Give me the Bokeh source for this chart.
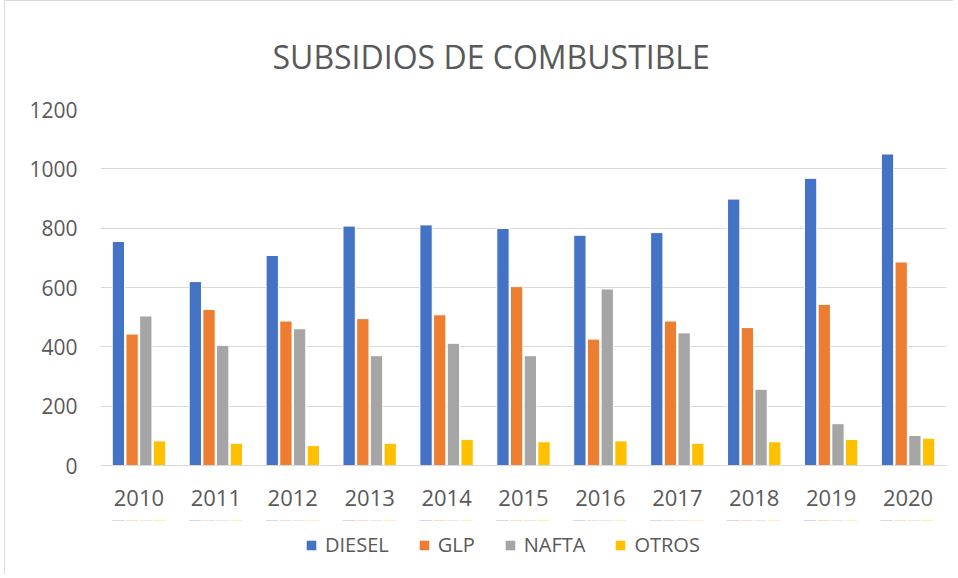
from bokeh.plotting import figure
from bokeh.layouts import column
from bokeh.models import ColumnDataSource, FactorRange, Legend, LegendItem, Range1d, FixedTicker
from bokeh.transform import dodge
from bokeh.embed import file_html
from bokeh.resources import INLINE

years = ["2010", "2011", "2012", "2013", "2014", "2015", "2016", "2017", "2018", "2019", "2020"]
diesel = [755, 620, 708, 807, 811, 799, 776, 785, 898, 968, 1050]
glp = [443, 526, 487, 495, 508, 603, 426, 487, 465, 543, 686]
nafta = [504, 405, 461, 370, 412, 370, 595, 447, 257, 141, 101]
otros = [83, 75, 67, 75, 88, 80, 83, 75, 80, 88, 92]
series = ["DIESEL", "GLP", "NAFTA", "OTROS"]
colors = ["#4472C4", "#ED7D31", "#A5A5A5", "#FFC000"]
y_ticks = [0, 200, 400, 600, 800, 1000, 1200]

src = ColumnDataSource(dict(year=years, DIESEL=diesel, GLP=glp, NAFTA=nafta, OTROS=otros))

FONT = "Open Sans"
TXT = "#595959"
BORDER = "1px solid #d9d9d9"

p = figure(x_range=FactorRange(*years), y_range=Range1d(0, 1200),
           frame_width=845, frame_height=355, output_backend="svg", toolbar_location=None,
           min_border_left=95, min_border_right=8, min_border_top=98, min_border_bottom=56)
p.styles = {"border-left": BORDER, "border-top": BORDER, "margin-left": "4px"}

p.title.text = "SUBSIDIOS DE COMBUSTIBLE"
p.title.align = "left"
p.title.text_font = FONT
p.title.text_font_style = "normal"
p.title.text_font_size = "32px"
p.title.text_color = TXT
p.title.offset = 172
p.title.standoff = 63

pitch = 0.178
width = 0.16
for i, (s, c) in enumerate(zip(series, colors)):
    off = (i - 1.5) * pitch
    p.vbar(x=dodge("year", off, range=p.x_range), top=s, width=width, source=src,
           fill_color=c, line_color="white", line_width=1)

p.outline_line_color = None
p.xgrid.grid_line_color = None
p.ygrid.grid_line_color = "#d9d9d9"
p.ygrid.grid_line_width = 1

p.yaxis.ticker = FixedTicker(ticks=y_ticks)
p.yaxis.axis_line_color = None
p.yaxis.major_tick_line_color = None
p.yaxis.minor_tick_line_color = None
p.yaxis.major_label_standoff = 17
p.yaxis.major_label_text_font = FONT
p.yaxis.major_label_text_font_size = "21px"
p.yaxis.major_label_text_color = TXT

p.xaxis.axis_line_color = "#d9d9d9"
p.xaxis.major_tick_line_color = None
p.xaxis.minor_tick_line_color = None
p.xaxis.major_label_standoff = 18
p.xaxis.major_label_text_font = FONT
p.xaxis.major_label_text_font_size = "22px"
p.xaxis.major_label_text_color = TXT

# legend strip below the chart: same series, drawn far outside its visible y range
lg = figure(width=948, height=54, output_backend="svg", toolbar_location=None,
            x_axis_type=None, y_axis_type=None, x_range=FactorRange(*years),
            y_range=Range1d(-6, -5), min_border=0)
lg.styles = {"border-left": BORDER, "margin-left": "4px"}
lg.outline_line_color = None
lg.grid.visible = False
items = []
for i, (s, c) in enumerate(zip(series, colors)):
    off = (i - 1.5) * pitch
    r = lg.vbar(x=dodge("year", off, range=lg.x_range), top=s, width=width, source=src,
                fill_color=c, line_color=None)
    items.append(LegendItem(label=s, renderers=[r]))

legend = Legend(items=items, orientation="horizontal", location=(205, 16),
                label_text_font=FONT, label_text_font_size="20px", label_text_color=TXT,
                glyph_width=12, glyph_height=12, spacing=29, label_standoff=8,
                border_line_color=None, background_fill_alpha=0, padding=0, margin=0)
lg.add_layout(legend, "center")

layout = column(p, lg, spacing=0)
open("out.html", "w").write(file_html(layout, INLINE))
